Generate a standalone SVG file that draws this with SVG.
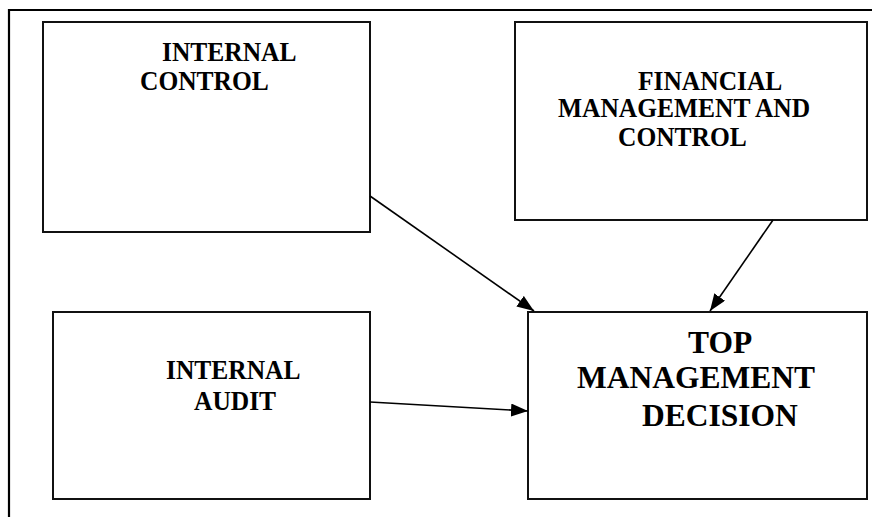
<svg xmlns="http://www.w3.org/2000/svg" width="872" height="517" viewBox="0 0 872 517">
<defs>
<marker id="ah" markerUnits="userSpaceOnUse" markerWidth="17" markerHeight="13" refX="17" refY="6.5" orient="auto">
<path d="M0,0 L17,6.5 L0,13 z" fill="#000"/>
</marker>
<style>
.box{fill:#fff;stroke:#111;stroke-width:2}
.t{font-family:"Liberation Serif","Times New Roman",serif;font-weight:bold;font-size:25.5px;fill:#000}
.tb{font-family:"Liberation Serif","Times New Roman",serif;font-weight:bold;font-size:31.5px;fill:#000}
.c{stroke:#000;stroke-width:1.6;fill:none;marker-end:url(#ah)}
</style>
</defs>
<rect width="872" height="517" fill="#fff"/>
<path d="M9,517 V10 H872" fill="none" stroke="#000" stroke-width="2.2"/>
<g id="internal-control">
<rect class="box" x="43" y="22" width="327" height="210"/>
<text class="t" x="162" y="0" transform="translate(0,61) scale(1,1.08)">INTERNAL</text>
<text class="t" x="140" y="0" transform="translate(0,90) scale(1,1.08)">CONTROL</text>
</g>
<g id="financial-management">
<rect class="box" x="515" y="22" width="352" height="198"/>
<text class="t" x="638" y="0" transform="translate(0,90) scale(1,1.08)">FINANCIAL</text>
<text class="t" x="558" y="0" transform="translate(0,117) scale(1,1.08)">MANAGEMENT AND</text>
<text class="t" x="618" y="0" transform="translate(0,146) scale(1,1.08)">CONTROL</text>
</g>
<g id="internal-audit">
<rect class="box" x="53" y="312" width="317" height="187"/>
<text class="t" x="166" y="0" transform="translate(0,379) scale(1,1.08)">INTERNAL</text>
<text class="t" x="194" y="0" transform="translate(0,410) scale(1,1.08)">AUDIT</text>
</g>
<g id="top-management">
<rect class="box" x="528" y="312" width="339" height="187"/>
<text class="tb" x="688" y="353">TOP</text>
<text class="tb" x="577" y="388">MANAGEMENT</text>
<text class="tb" x="642" y="426">DECISION</text>
</g>
<g id="connectors">
<line class="c" x1="370" y1="196" x2="534" y2="311"/>
<line class="c" x1="773" y1="220" x2="710" y2="311"/>
<line class="c" x1="370" y1="402" x2="528" y2="411"/>
</g>
</svg>
